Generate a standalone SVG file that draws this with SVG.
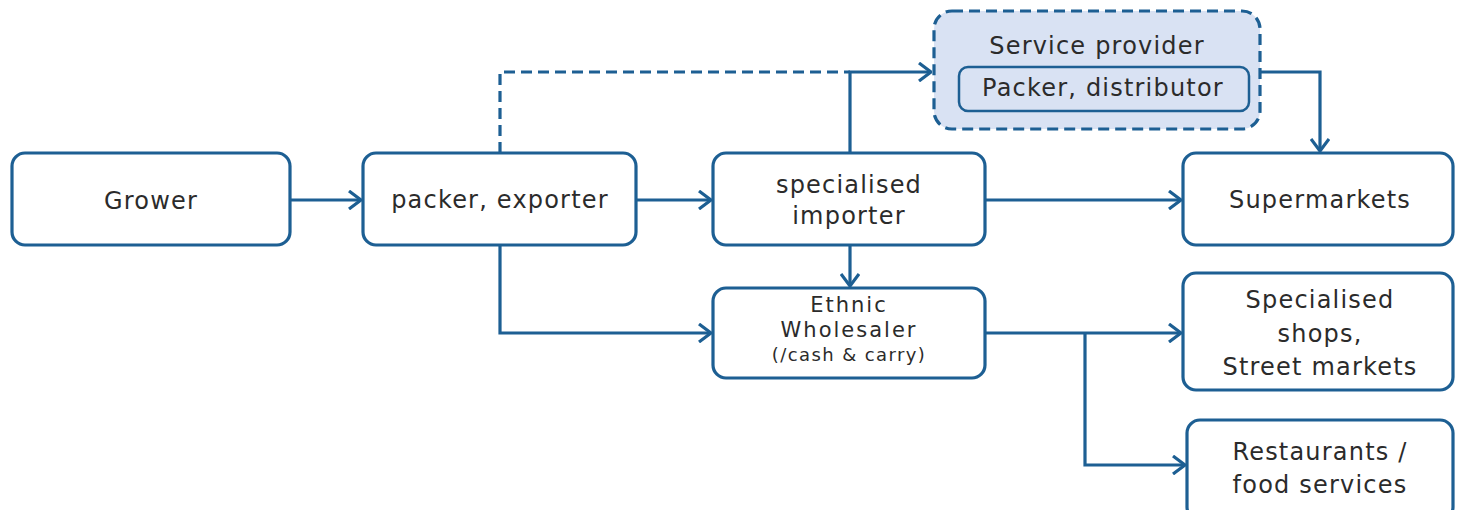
<svg xmlns="http://www.w3.org/2000/svg" width="1460" height="510" viewBox="0 0 1460 510">
<defs>
<marker id="arr" viewBox="0 0 14 20" refX="13" refY="10" markerWidth="14" markerHeight="20" markerUnits="userSpaceOnUse" orient="auto">
<path d="M1,1 L13,10 L1,19" fill="none" stroke="#1d5f93" stroke-width="3.2"/>
</marker>
<style>
.box{fill:#fff;stroke:#1d5f93;stroke-width:3.2}
.svc{fill:#d9e2f3;stroke:#1d5f93;stroke-width:3.2;stroke-dasharray:11 6}
.inner{fill:#d9e2f3;stroke:#1d5f93;stroke-width:2.5}
.t{font-family:"DejaVu Sans",Verdana,sans-serif;font-size:24px;letter-spacing:1.2px;fill:#2b2b2b;text-anchor:middle}
.m{font-size:21px;letter-spacing:2px}
.s{font-size:18px;letter-spacing:1.4px}
.c{fill:none;stroke:#1d5f93;stroke-width:3.2}
.d{stroke-dasharray:11 6}
</style>
</defs>
<rect width="1460" height="510" fill="#fff"/>
<g id="connectors">
<path class="c" d="M290,200 H361" marker-end="url(#arr)"/>
<path class="c" d="M636,200 H711" marker-end="url(#arr)"/>
<path class="c" d="M500,245 V333 H711" marker-end="url(#arr)"/>
<path class="c d" d="M500,153 V72 H850"/>
<path class="c" d="M850,153 V72 H931" marker-end="url(#arr)"/>
<path class="c" d="M985,200 H1181" marker-end="url(#arr)"/>
<path class="c" d="M850,245 V286" marker-end="url(#arr)"/>
<path class="c" d="M1260,72 H1320 V151" marker-end="url(#arr)"/>
<path class="c" d="M985,333 H1181" marker-end="url(#arr)"/>
<path class="c" d="M1085,333 V465 H1185" marker-end="url(#arr)"/>
</g>
<g id="grower"><rect class="box" x="12" y="153" width="278" height="92" rx="13"/><text class="t" x="151" y="209">Grower</text></g>
<g id="packer"><rect class="box" x="363" y="153" width="273" height="92" rx="13"/><text class="t" x="500" y="208">packer, exporter</text></g>
<g id="importer"><rect class="box" x="713" y="153" width="272" height="92" rx="13"/><text class="t" x="849" y="193">specialised</text><text class="t" x="849" y="224">importer</text></g>
<g id="service"><rect class="svc" x="934" y="11" width="326" height="118" rx="18"/><text class="t" x="1097" y="54">Service provider</text>
<g id="packer-distributor"><rect class="inner" x="959" y="67" width="290" height="44" rx="9"/><text class="t" x="1103" y="96">Packer, distributor</text></g></g>
<g id="supermarkets"><rect class="box" x="1183" y="153" width="270" height="92" rx="13"/><text class="t" x="1320" y="208">Supermarkets</text></g>
<g id="wholesaler"><rect class="box" x="713" y="288" width="272" height="90" rx="13"/><text class="t m" x="849" y="312">Ethnic</text><text class="t m" x="849" y="337">Wholesaler</text><text class="t s" x="849" y="361">(/cash &amp; carry)</text></g>
<g id="shops"><rect class="box" x="1183" y="273" width="270" height="117" rx="13"/><text class="t" x="1320" y="308">Specialised</text><text class="t" x="1320" y="342">shops,</text><text class="t" x="1320" y="375">Street markets</text></g>
<g id="restaurants"><rect class="box" x="1187" y="420" width="266" height="100" rx="13"/><text class="t" x="1320" y="460">Restaurants /</text><text class="t" x="1320" y="493">food services</text></g>
</svg>
